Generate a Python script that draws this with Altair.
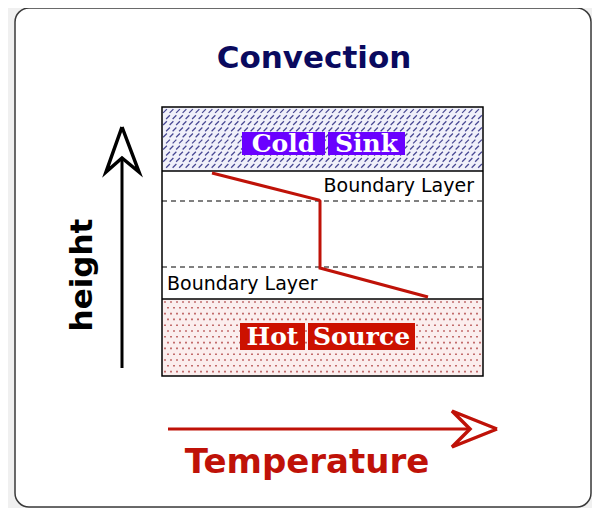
import altair as alt
import pandas as pd

# ---- diagram geometry (screen-like coordinates, y grows downward) ----
frame = {"x": [15], "x2": [591], "y": [8], "y2": [507]}

box_left, box_right = 162, 483
cold_top, cold_bottom = 107, 171
hot_top, hot_bottom = 299, 376
dash_y = [201, 267]

# temperature profile (x, y)
profile_x = [212, 319, 320, 320, 428]
profile_y = [173, 200, 201, 268, 297]

# label boxes
label_words = ["Cold", "Sink", "Hot", "Source"]
label_x1 = [242, 328, 240, 308]
label_x2 = [325, 405, 305, 415]
label_y1 = [132, 132, 323, 323]
label_y2 = [155, 155, 350, 350]
label_fill = ["#6a00ff", "#6a00ff", "#cc1100", "#cc1100"]
label_base = [152, 152, 345, 345]

# arrows
h_shaft_x = [122, 122]
h_shaft_y = [368, 158]
h_head_x = [122, 139, 122, 106, 122]
h_head_y = [127, 172, 158, 172, 127]

t_shaft_x = [168, 470]
t_shaft_y = [429, 429]
t_head_x = [497, 452, 470, 452, 497]
t_head_y = [429, 411, 429, 447, 429]

W, H = 584, 500
xs = alt.Scale(domain=[8, 8 + W], nice=False, zero=False)
ys = alt.Scale(domain=[8, 8 + H], nice=False, zero=False, reverse=True)

def X(f="x"):
    return alt.X(f"{f}:Q", scale=xs, axis=None)

def Y(f="y"):
    return alt.Y(f"{f}:Q", scale=ys, axis=None)

# outer rounded frame
frame_layer = alt.Chart(pd.DataFrame(frame)).mark_rect(
    fill="white", stroke="#3a3a3a", strokeWidth=1.5, cornerRadius=14
).encode(x=X(), x2="x2:Q", y=Y(), y2="y2:Q")

# region fills
regions = pd.DataFrame({
    "x": [box_left, box_left, box_left],
    "x2": [box_right, box_right, box_right],
    "y": [cold_top, cold_bottom, hot_top],
    "y2": [cold_bottom, hot_top, hot_bottom],
    "c": ["#f0f0fa", "#ffffff", "#fbeeee"],
})
region_layer = alt.Chart(regions).mark_rect().encode(
    x=X(), x2="x2:Q", y=Y(), y2="y2:Q", color=alt.Color("c:N", scale=None)
)

# hatch texture for cold sink (navy slashes)
cold_cols, cold_rows = 49, 10
cold_hatch = alt.Chart(alt.sequence(0, cold_cols * cold_rows, as_="i")).transform_calculate(
    x=f"{box_left + 3} + (datum.i % {cold_cols}) * 6.5 + (floor(datum.i / {cold_cols}) % 2) * 3",
    y=f"{cold_top + 4} + floor(datum.i / {cold_cols}) * 6.1",
).transform_filter(f"datum.x < {box_right - 2}").mark_point(
    shape="M-1,1L1,-1", size=14, filled=False, stroke="#2a2a80", strokeWidth=1.3, opacity=0.85
).encode(x=X(), y=Y())

# dot texture for hot source
hot_cols, hot_rows = 54, 13
hot_dots = alt.Chart(alt.sequence(0, hot_cols * hot_rows, as_="i")).transform_calculate(
    x=f"{box_left + 3} + (datum.i % {hot_cols}) * 6 + (floor(datum.i / {hot_cols}) % 2) * 3",
    y=f"{hot_top + 3} + floor(datum.i / {hot_cols}) * 5.8",
).transform_filter(f"datum.x < {box_right - 2}").mark_square(
    size=2.5, color="#a02020", opacity=0.8
).encode(x=X(), y=Y())

# label boxes
labels = pd.DataFrame({
    "w": label_words, "x": label_x1, "x2": label_x2,
    "y": label_y1, "y2": label_y2, "c": label_fill, "b": label_base,
})
labels["cx"] = (labels["x"] + labels["x2"]) / 2
label_rect = alt.Chart(labels).mark_rect().encode(
    x=X(), x2="x2:Q", y=Y(), y2="y2:Q", color=alt.Color("c:N", scale=None)
)
label_text = alt.Chart(labels).mark_text(
    font="DejaVu Serif", fontWeight="bold", fontSize=25, color="white",
    align="center", baseline="alphabetic"
).encode(x=X("cx"), y=Y("b"), text="w:N")

# box outline and separators
outline = alt.Chart(pd.DataFrame({"x": [box_left], "x2": [box_right],
                                  "y": [cold_top], "y2": [hot_bottom]})).mark_rect(
    fill=None, stroke="black", strokeWidth=1.5
).encode(x=X(), x2="x2:Q", y=Y(), y2="y2:Q")

sep = alt.Chart(pd.DataFrame({"x": [box_left] * 2, "x2": [box_right] * 2,
                              "y": [cold_bottom, hot_top]})).mark_rule(
    color="black", strokeWidth=1.5
).encode(x=X(), x2="x2:Q", y=Y())

dashes = alt.Chart(pd.DataFrame({"x": [box_left] * 2, "x2": [box_right] * 2,
                                 "y": dash_y})).mark_rule(
    color="black", strokeWidth=1, strokeDash=[5, 4]
).encode(x=X(), x2="x2:Q", y=Y())

# temperature profile
prof = pd.DataFrame({"x": profile_x, "y": profile_y, "o": range(len(profile_x))})
profile = alt.Chart(prof).mark_line(color="#bf1208", strokeWidth=3).encode(
    x=X(), y=Y(), order="o:Q"
)

# Boundary Layer labels
bl = pd.DataFrame({"x": [474, 167], "y": [192, 290], "t": ["Boundary Layer"] * 2})
bl_upper = alt.Chart(bl.iloc[[0]]).mark_text(
    font="DejaVu Sans", fontSize=19, color="black", align="right", baseline="alphabetic"
).encode(x=X(), y=Y(), text="t:N")
bl_lower = alt.Chart(bl.iloc[[1]]).mark_text(
    font="DejaVu Sans", fontSize=19, color="black", align="left", baseline="alphabetic"
).encode(x=X(), y=Y(), text="t:N")

# arrows
def polyline(xv, yv, color, width):
    d = pd.DataFrame({"x": xv, "y": yv, "o": range(len(xv))})
    return alt.Chart(d).mark_line(color=color, strokeWidth=width, strokeJoin="miter").encode(
        x=X(), y=Y(), order="o:Q"
    )

h_shaft = polyline(h_shaft_x, h_shaft_y, "black", 3)
h_head = polyline(h_head_x, h_head_y, "black", 3.5)
t_shaft = polyline(t_shaft_x, t_shaft_y, "#bf1208", 3)
t_head = polyline(t_head_x, t_head_y, "#bf1208", 3.5)

# titles
title = alt.Chart(pd.DataFrame({"x": [314], "y": [68], "t": ["Convection"]})).mark_text(
    font="DejaVu Sans", fontWeight="bold", fontSize=31, color="#0a0a5e",
    align="center", baseline="alphabetic"
).encode(x=X(), y=Y(), text="t:N")

temp = alt.Chart(pd.DataFrame({"x": [307], "y": [473], "t": ["Temperature"]})).mark_text(
    font="DejaVu Sans", fontWeight="bold", fontSize=34, color="#bf1208",
    align="center", baseline="alphabetic"
).encode(x=X(), y=Y(), text="t:N")

height = alt.Chart(pd.DataFrame({"x": [92], "y": [275], "t": ["height"]})).mark_text(
    font="DejaVu Sans", fontWeight="bold", fontSize=31, color="black",
    align="center", baseline="alphabetic", angle=270
).encode(x=X(), y=Y(), text="t:N")

chart = alt.layer(
    frame_layer, region_layer, cold_hatch, hot_dots, label_rect, label_text,
    outline, sep, dashes, profile, bl_upper, bl_lower,
    h_shaft, h_head, t_shaft, t_head, title, temp, height
).properties(
    width=W, height=H, padding=0, autosize=alt.AutoSizeParams(type="none"),
    background="#f0f0f0"
).configure_view(stroke=None, clip=False)

chart.save("out.html", embed_options={"renderer": "svg", "actions": False})
